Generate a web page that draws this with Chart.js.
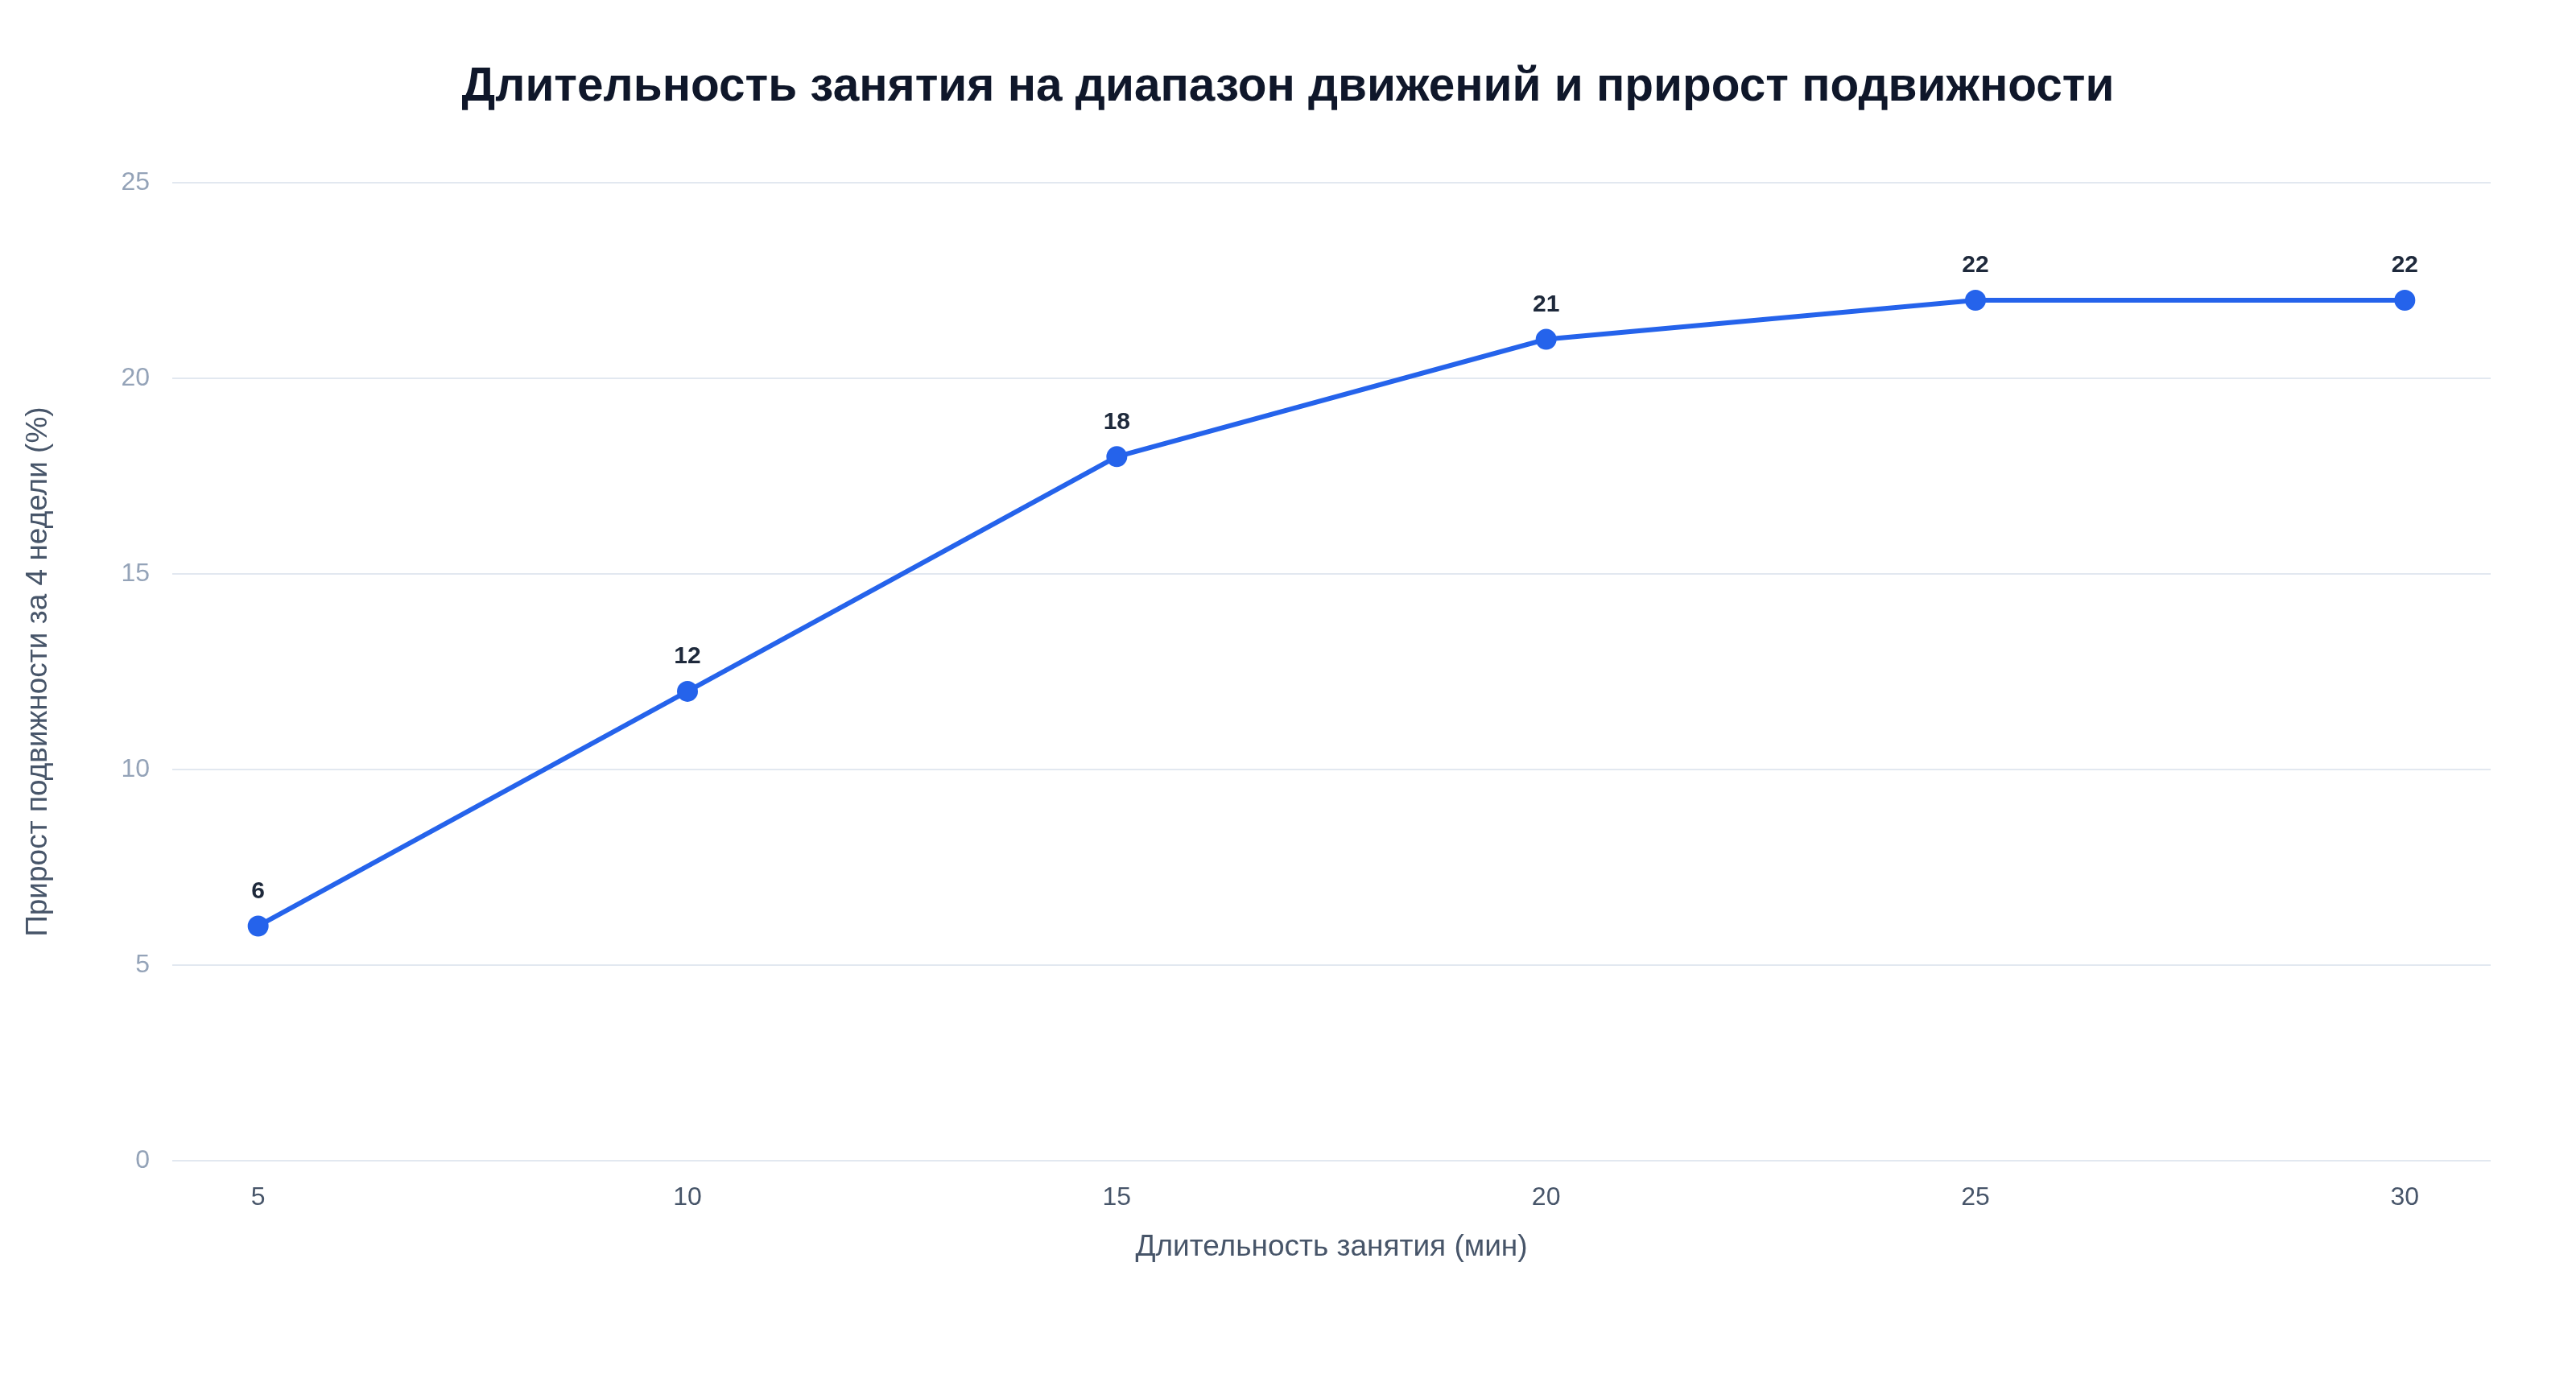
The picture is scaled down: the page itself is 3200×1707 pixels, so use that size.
<!DOCTYPE html>
<html>
<head>
<meta charset="utf-8">
<script src="https://cdn.jsdelivr.net/npm/chart.js@4.4.1/dist/chart.umd.min.js"></script>
<style>
  html, body { margin: 0; padding: 0; background: #ffffff; }
  #wrap { width: 3200px; height: 1707px; position: relative; }
</style>
</head>
<body>
<div id="wrap"><canvas id="c"></canvas></div>
<script>
const titleText = 'Длительность занятия на диапазон движений и прирост подвижности';
const xAxisTitle = 'Длительность занятия (мин)';
const yAxisTitle = 'Прирост подвижности за 4 недели (%)';
const durations = [5, 10, 15, 20, 25, 30];
const mobilityGain = [6, 12, 18, 21, 22, 22];
const yTicks = [0, 5, 10, 15, 20, 25];

const FONT = '"Liberation Sans", Arial, Helvetica, sans-serif';

const pointLabels = {
  id: 'pointLabels',
  afterDatasetsDraw(chart) {
    const ctx = chart.ctx;
    const meta = chart.getDatasetMeta(0);
    ctx.save();
    ctx.font = 'bold 30px ' + FONT;
    ctx.fillStyle = '#1e293b';
    ctx.textAlign = 'center';
    ctx.textBaseline = 'middle';
    meta.data.forEach((el, i) => {
      ctx.fillText(String(mobilityGain[i]), el.x, el.y - 43);
    });
    ctx.restore();
  }
};

new Chart(document.getElementById('c'), {
  type: 'line',
  data: {
    datasets: [{
      data: durations.map((d, i) => ({ x: d, y: mobilityGain[i] })),
      borderColor: '#2563eb',
      backgroundColor: '#2563eb',
      borderWidth: 6,
      pointRadius: 12,
      pointBorderWidth: 2,
      pointBorderColor: '#2563eb',
      pointBackgroundColor: '#2563eb',
      tension: 0,
      fill: false
    }]
  },
  options: {
    responsive: true,
    maintainAspectRatio: false,
    devicePixelRatio: 1,
    animation: false,
    layout: { padding: { left: 0, right: 0, top: 0, bottom: 0 } },
    plugins: {
      legend: { display: false },
      tooltip: { enabled: false },
      title: {
        display: true,
        text: titleText,
        color: '#0f172a',
        font: { family: FONT, size: 58.5, weight: 'bold', lineHeight: 1.2 },
        padding: { top: 74, bottom: 83 }
      }
    },
    scales: {
      x: {
        type: 'linear',
        min: 4,
        max: 31,
        afterBuildTicks(scale) { scale.ticks = durations.map(v => ({ value: v })); },
        afterFit(scale) { scale.height = 265; },
        grid: { display: false, drawTicks: false },
        border: { display: false },
        ticks: {
          color: '#475569',
          font: { family: FONT, size: 32 },
          padding: 27,
          maxRotation: 0
        },
        title: {
          display: true,
          text: xAxisTitle,
          color: '#475569',
          font: { family: FONT, size: 37 },
          padding: { top: 10, bottom: 135 }
        }
      },
      y: {
        min: 0,
        max: 25,
        afterBuildTicks(scale) { scale.ticks = yTicks.map(v => ({ value: v })); },
        afterFit(scale) { scale.width = 214; },
        grid: { color: '#e2e8f0', lineWidth: 2, drawTicks: false },
        border: { display: false },
        ticks: {
          color: '#94a3b8',
          font: { family: FONT, size: 32 },
          padding: 28
        },
        title: {
          display: true,
          text: yAxisTitle,
          color: '#475569',
          font: { family: FONT, size: 37 },
          padding: { top: 26, bottom: 0 }
        }
      },
      yRight: {
        position: 'right',
        min: 0,
        max: 25,
        afterFit(scale) { scale.width = 106; },
        grid: { display: false, drawTicks: false },
        border: { display: false },
        ticks: { display: false },
        title: { display: false }
      }
    }
  },
  plugins: [pointLabels]
});
</script>
</body>
</html>
